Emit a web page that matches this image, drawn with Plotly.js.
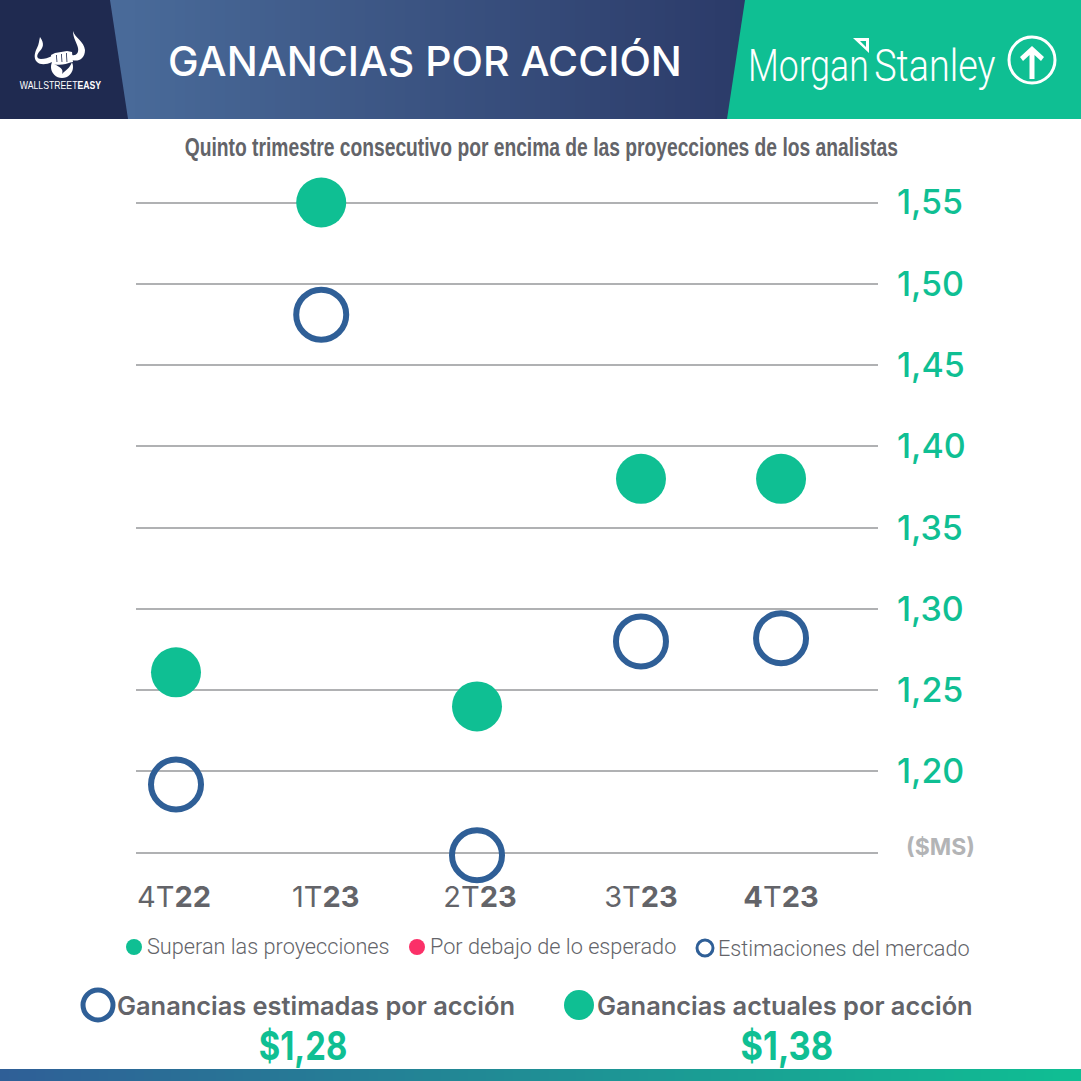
<!DOCTYPE html>
<html>
<head>
<meta charset="utf-8">
<script src="https://cdn.plot.ly/plotly-3.0.1.min.js"></script>
<style>
    html, body { margin: 0; padding: 0; background: #fff; }
    #chart { width: 1081px; height: 1081px; }
</style>
</head>
<body>
<div id="chart"></div>
<script>
const quarters = ['4T<b>22</b>', '1T<b>23</b>', '2T<b>23</b>', '3T<b>23</b>', '<b>4</b>T<b>23</b>'];
const quarterSlots = [0, 0.96, 1.99, 3.074, 4];
const tickSlots = [-0.013, 0.99, 2.01, 3.074, 4];
const actualEps = [1.261, 1.55, 1.24, 1.38, 1.38];
const estimatedEps = [1.192, 1.481, 1.1485, 1.28, 1.282];
const yTickValues = [1.15, 1.20, 1.25, 1.30, 1.35, 1.40, 1.45, 1.50, 1.55];
const yTickLabels = ['', '1,20', '1,25', '1,30', '1,35', '1,40', '1,45', '1,50', '1,55'];

const SIZE = 1081;
const TEAL = '#0fbf93';
const BLUE = '#2f5f97';
const NAVY = '#1f2a50';
const GREY = '#636469';
const MAIN_FONT = 'Inter, Lato, sans-serif';
const LIGHT_FONT = 'Roboto, Lato, sans-serif';
const NARROW_FONT = '"Liberation Sans", sans-serif';

function fx(x) { return x / SIZE; }
function fy(y) { return 1 - y / SIZE; }

// path written in page pixels, converted to paper fractions
function pxPath(d)
{
    return d.replace(/(-?[\d.]+),(-?[\d.]+)/g, (_, x, y) => fx(+x) + ',' + fy(+y));
}

function fillShape(d, color)
{
    return { type: 'path', xref: 'paper', yref: 'paper', path: pxPath(d), fillcolor: color, line: { width: 0 } };
}

function circleShape(cx, cy, r, fill, lineColor, lineWidth)
{
    return {
        type: 'circle', xref: 'paper', yref: 'paper',
        x0: fx(cx - r), x1: fx(cx + r), y0: fy(cy + r), y1: fy(cy - r),
        fillcolor: fill, line: { color: lineColor || fill, width: lineWidth || 0 }
    };
}

function mixColor(a, b, t)
{
    const c = a.map((v, i) => Math.round(v + (b[i] - v) * t));
    return 'rgb(' + c.join(',') + ')';
}

function gradientBand(x0, y0, y1, w, steps, from, to)
{
    const out = [];
    for (let i = 0; i < steps; i++)
    {
        const a = x0 + i * w;
        const b = a + w + 4;
        out.push(fillShape('M' + a + ',' + y0 + ' L' + b + ',' + y0 + ' L' + b + ',' + y1 + ' L' + a + ',' + y1 + ' Z',
            mixColor(from, to, i / (steps - 1))));
    }
    return out;
}

function label(text, x, y, size, color, opts)
{
    opts = opts || {};
    return {
        text: text, xref: 'paper', yref: 'paper', x: fx(x), y: fy(y),
        xanchor: opts.anchor || 'center', yanchor: 'middle', showarrow: false,
        font: { size: size, color: color, family: opts.family || MAIN_FONT, weight: opts.weight || 400 },
        squeeze: opts.squeeze || 1
    };
}

const headerShapes = [].concat(
    gradientBand(100, 0, 119, 5, 130, [74, 108, 155], [43, 58, 104]),
    gradientBand(0, 1069, 1081, 9, 121, [47, 95, 151], [15, 191, 147]),
    [
        fillShape('M0,0 L110,0 L128,119 L0,119 Z', NAVY),
        fillShape('M745,0 L1085,0 L1085,119 L727,119 Z', TEAL),
        // bull logo
        fillShape('M40,37 C45,44 43,48 39,52 C36,56 37,59 41,59 C45,59 48,58 52,56 L52,62 C46,65 40,65 37,62 C33,58 35,52 37,48 C39,44 39,41 40,37 Z', '#fff'),
        fillShape('M73,31 C75,38 84,41 85,50 C85,59 78,62 72,60 L72,55 C76,56 79,53 78,48 C77,43 73,38 73,31 Z', '#fff'),
        circleShape(62, 67, 11, '#fff'),
        fillShape('M51,55 L55,53 L61,52 L67,51 L72,52 L73,62 L52,64 Z', '#fff'),
        fillShape('M56,55 L56.6,62 L57.4,62 L56.8,55 Z', NAVY),
        fillShape('M61,54 L61.6,62 L62.4,62 L61.8,54 Z', NAVY),
        fillShape('M66,53 L66.6,62 L67.4,62 L66.8,53 Z', NAVY),
        fillShape('M54,64 C60,66 66,64 72,62 C70,68 66,70 62,74 C64,69 60,67 54,64 Z', NAVY),
        // morgan stanley mark and arrow
        fillShape('M853,38 L869,38 L869,53 Z M860,41 L866,47 L866,41 Z', '#fff'),
        circleShape(1032, 60, 23, 'rgba(0,0,0,0)', '#fff', 3),
        fillShape('M1029.5,79 L1029.5,55 L1023,61 L1020,57 L1032,46 L1044,57 L1041,61 L1034.5,55 L1034.5,79 Z', '#fff'),
        // legend dots
        circleShape(134, 947, 8, TEAL),
        circleShape(417, 947, 8, '#fb3068'),
        circleShape(705, 948, 8, 'rgba(0,0,0,0)', BLUE, 3),
        circleShape(98, 1005, 15, 'rgba(0,0,0,0)', BLUE, 5),
        circleShape(579, 1005, 15, TEAL)
    ]
);

const annotations = [
    label('GANANCIAS POR ACCIÓN', 425, 61, 41, '#fff', { weight: 500 }),
    label('WALLSTREET<b>EASY</b>', 61, 85, 11, '#fff', { family: NARROW_FONT, squeeze: 0.79 }),
    label('Morgan', 746, 65, 45, '#fff', { family: LIGHT_FONT, weight: 300, anchor: 'left', squeeze: 0.79 }),
    label('Stanley', 998, 65, 45, '#fff', { family: LIGHT_FONT, weight: 300, anchor: 'right', squeeze: 0.84 }),
    label('<b>Quinto trimestre consecutivo por encima de las proyecciones de los analistas</b>', 541, 147, 25, GREY, { family: NARROW_FONT, squeeze: 0.77 }),
    label('<b>($MS)</b>', 940, 847, 23, '#b3b4b6'),
    label('Superan las proyecciones', 145, 946, 21.7, GREY, { family: LIGHT_FONT, weight: 300, anchor: 'left' }),
    label('Por debajo de lo esperado', 428, 946, 21.7, GREY, { family: LIGHT_FONT, weight: 300, anchor: 'left' }),
    label('Estimaciones del mercado', 716, 948, 21.7, GREY, { family: LIGHT_FONT, weight: 300, anchor: 'left' }),
    label('Ganancias estimadas por acción', 115, 1005, 25.4, GREY, { weight: 600, anchor: 'left' }),
    label('Ganancias actuales por acción', 595, 1005, 25.4, GREY, { weight: 600, anchor: 'left' }),
    label('<b>$1,28</b>', 303, 1045, 40, TEAL, { squeeze: 0.82 }),
    label('<b>$1,38</b>', 787, 1045, 40, TEAL, { squeeze: 0.86 })
];

const traces = [
    {
        x: quarterSlots, y: estimatedEps, type: 'scatter', mode: 'markers', cliponaxis: false,
        name: 'Estimaciones del mercado',
        marker: { size: 50, color: 'rgba(0,0,0,0)', line: { color: BLUE, width: 6 } }
    },
    {
        x: quarterSlots, y: actualEps, type: 'scatter', mode: 'markers', cliponaxis: false,
        name: 'Superan las proyecciones',
        marker: { size: 50, color: TEAL }
    }
];

const layout = {
    width: SIZE, height: SIZE,
    margin: { l: 0, r: 0, t: 0, b: 0 },
    paper_bgcolor: '#fff', plot_bgcolor: 'rgba(0,0,0,0)',
    showlegend: false,
    hovermode: false,
    xaxis: {
        domain: [fx(136), fx(878)],
        range: [-0.2645, 4.641],
        tickmode: 'array', tickvals: tickSlots, ticktext: quarters,
        showgrid: false, zeroline: false, showline: false, ticks: '',
        ticklabelstandoff: 21,
        tickfont: { size: 29, color: GREY, family: MAIN_FONT }
    },
    yaxis: {
        domain: [fy(856), fy(199.25)],
        range: [1.148, 1.552],
        side: 'right',
        tickmode: 'array', tickvals: yTickValues, ticktext: yTickLabels,
        showgrid: true, gridcolor: '#b0b1b3', gridwidth: 2,
        zeroline: false, showline: false, ticks: '',
        ticklabelstandoff: 18,
        tickfont: { size: 34, color: TEAL, family: MAIN_FONT, weight: 500 }
    },
    shapes: headerShapes,
    annotations: annotations
};

// the reference uses condensed faces that are not installed, so narrow the text itself
function squeezeAnnotations()
{
    document.querySelectorAll('#chart .annotation').forEach(function(node)
    {
        const a = annotations[+node.getAttribute('data-index')];
        if (a.squeeze === 1) return;
        const text = node.querySelector('text');
        text.style.transformBox = 'fill-box';
        text.style.transformOrigin = a.xanchor + ' center';
        text.style.transform = 'scaleX(' + a.squeeze + ')';
    });
}

window.addEventListener('load', function()
{
    Plotly.newPlot('chart', traces, layout, { displayModeBar: false }).then(squeezeAnnotations);
});
</script>
</body>
</html>
